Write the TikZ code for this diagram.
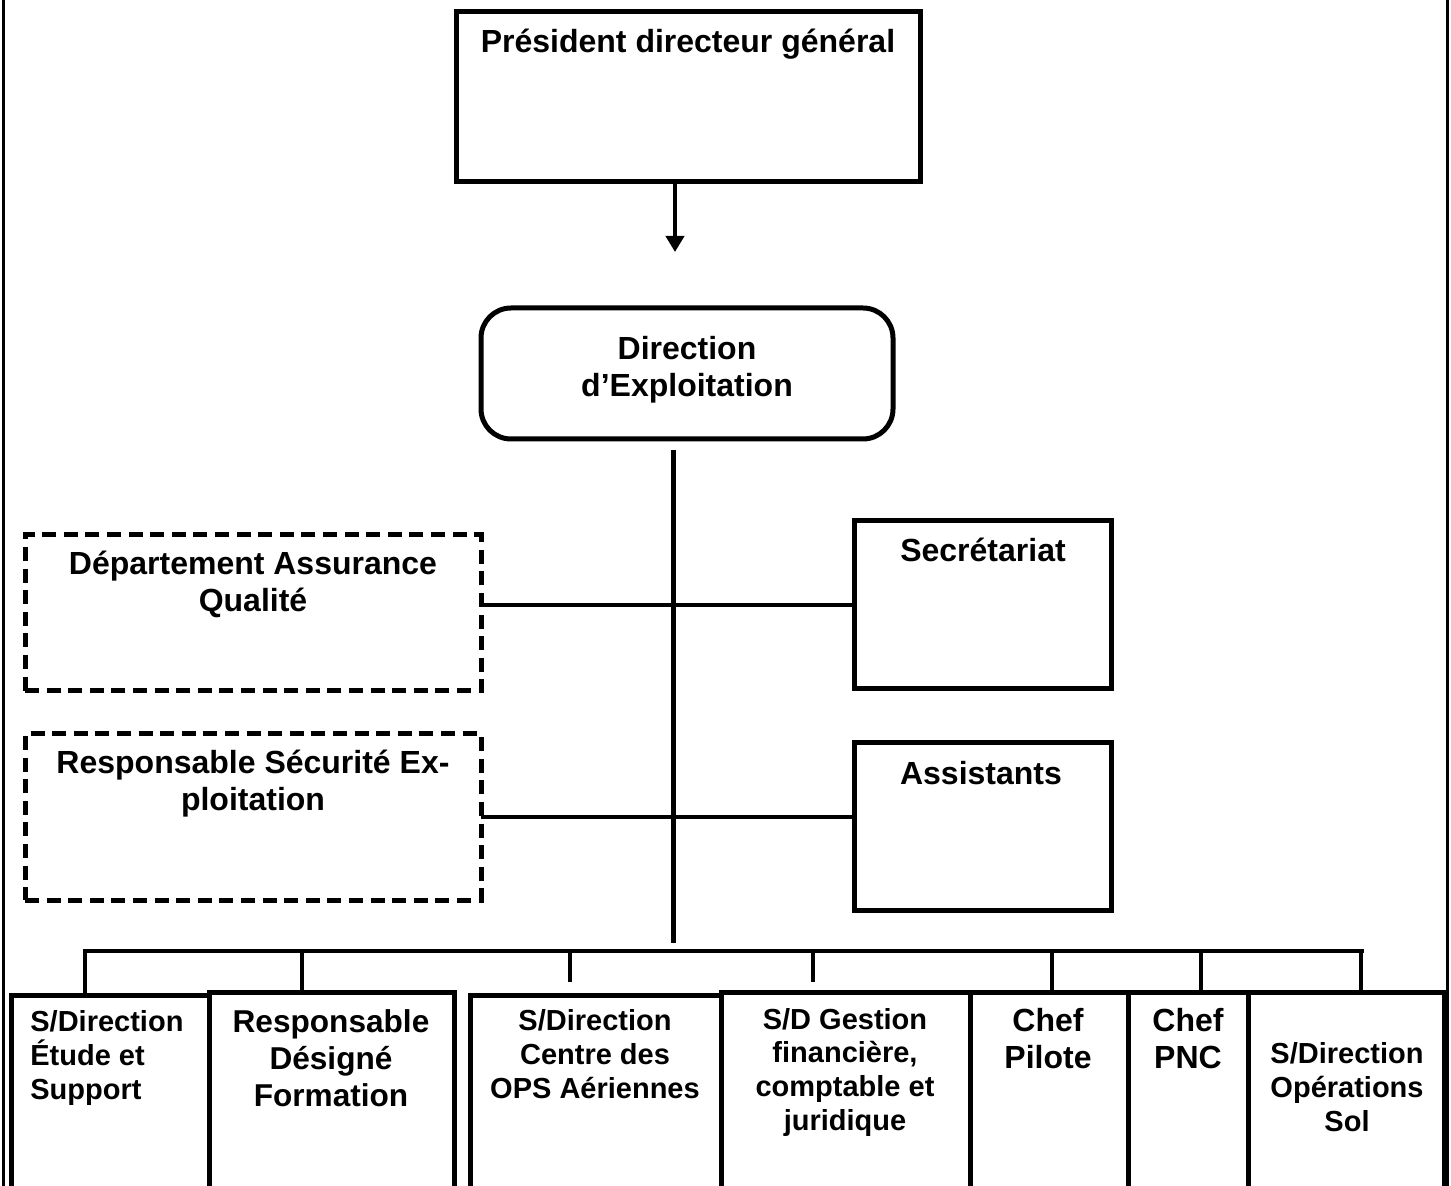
\documentclass[tikz,border=0pt]{standalone}
\usepackage{fontspec}
\setmainfont{Liberation Sans}
\usetikzlibrary{arrows.meta}
\newcommand\mkbox[6]{%
  \node[#6, anchor=north west, minimum width={(#4-#2)*0.5pt}, minimum height={(#5-#3)*0.5pt}] (#1) at (#2,#3) {};}
\tikzset{
  frame/.style={draw, line width=2.5pt, inner sep=0pt, outer sep=0pt},
  dbox/.style={frame, dash pattern=on 7pt off 3.8pt},
  rbox/.style={frame, rounded corners=15pt},
  conn/.style={line width=2.3pt},
  bigtxt/.style={inner sep=0pt, align=center, font=\fontsize{16}{18.5}\selectfont\bfseries},
  smalltxt/.style={inner sep=0pt, align=center, font=\fontsize{14.5}{16.8}\selectfont\bfseries},
  midtxt/.style={inner sep=0pt, align=center, font=\fontsize{15.8}{18.3}\selectfont\bfseries},
  pagerule/.style={line width=1.6pt}
}
\begin{document}
\begin{tikzpicture}[x=0.5pt, y=-0.5pt]
\useasboundingbox (0,0) rectangle (1451,1186);
\fill[white] (0,0) rectangle (1451,1186);
\begin{scope}
\clip (0,0) rectangle (1451,1186);
% page rules
\coordinate (lt) at (3.5,0); \coordinate (lb) at (3.5,1186);
\coordinate (rt) at (1447.5,0); \coordinate (rb) at (1447.5,1186);
\draw[pagerule] (lt) -- (lb);
\draw[pagerule] (rt) -- (rb);
% boxes
\mkbox{pdg}{456}{12}{920}{182}{frame}
\mkbox{dex}{481}{308}{893}{439}{rbox}
\mkbox{daq}{25}{535}{481}{691}{dbox}
\mkbox{sec}{854}{521}{1111}{689}{frame}
\mkbox{rse}{25}{734}{481}{900}{dbox}
\mkbox{ast}{854}{743}{1111}{910}{frame}
\mkbox{b1}{11}{995}{209}{1220}{frame}
\mkbox{b2}{209}{992}{454}{1220}{frame}
\mkbox{b3}{470}{995}{721}{1220}{frame}
\mkbox{b4}{721}{992}{970}{1220}{frame}
\mkbox{b5}{970}{992}{1128}{1220}{frame}
\mkbox{b6}{1128}{992}{1248}{1220}{frame}
\mkbox{b7}{1248}{992}{1444}{1220}{frame}
% texts (anchor=base is the baseline of the last line)
\node[bigtxt, anchor=base] (pdgt) at (688,53) {Président directeur général};
\node[bigtxt, anchor=base] (dext) at (687,397) {Direction\\d’Exploitation};
\node[bigtxt, anchor=base] (daqt) at (253,612) {Département Assurance\\Qualité};
\node[bigtxt, anchor=base] (sect) at (983,562) {Secrétariat};
\node[bigtxt, anchor=base] (rset) at (253,811) {Responsable Sécurité Ex-\\ploitation};
\node[bigtxt, anchor=base] (astt) at (981,784) {Assistants};
\node[smalltxt, align=left, anchor=base west] (b1t) at (30,1099) {S/Direction\\Étude et\\Support};
\node[midtxt, anchor=base] (b2t) at (331,1106) {Responsable\\Désigné\\Formation};
\node[smalltxt, anchor=base] (b3t) at (595,1098) {S/Direction\\Centre des\\OPS Aériennes};
\node[smalltxt, anchor=base] (b4t) at (845,1130) {S/D Gestion\\financière,\\comptable et\\juridique};
\node[bigtxt, anchor=base] (b5t) at (1048,1068) {Chef\\Pilote};
\node[bigtxt, anchor=base] (b6t) at (1188,1068) {Chef\\PNC};
\node[smalltxt, anchor=base] (b7t) at (1347,1131) {S/Direction\\Opérations\\Sol};
% connectors
\coordinate (atip) at (675,252);
\draw[conn, -{Triangle[length=8pt, width=9pt]}] (atip |- pdg.south) -- (atip);
\coordinate (vtop) at (673.5,450);
\coordinate (vbot) at (673.5,943);
\draw[conn] (vtop) -- (vbot);
\draw[conn] (sec.west -| daq.east) -- (sec.west);
\draw[conn] (rse.east) -- (rse.east -| ast.west);
\coordinate (busL) at (83,951);
\coordinate (busR) at (1364,951);
\draw[conn] (busL) -- (busR);
\coordinate (d1) at (85,951);
\coordinate (d2) at (302,951);
\coordinate (d3) at (570,951);
\coordinate (d4) at (813,951);
\coordinate (d5) at (1052,951);
\coordinate (d6) at (1201,951);
\coordinate (d7) at (1361,951);
\draw[conn] (d1) -- (d1 |- b1.north);
\draw[conn] (d2) -- (d2 |- b2.north);
\draw[conn] (d3) -- ++(0,31);
\draw[conn] (d4) -- ++(0,31);
\draw[conn] (d5) -- (d5 |- b5.north);
\draw[conn] (d6) -- (d6 |- b6.north);
\draw[conn] (d7) -- (d7 |- b7.north);
\end{scope}
\end{tikzpicture}
\end{document}
